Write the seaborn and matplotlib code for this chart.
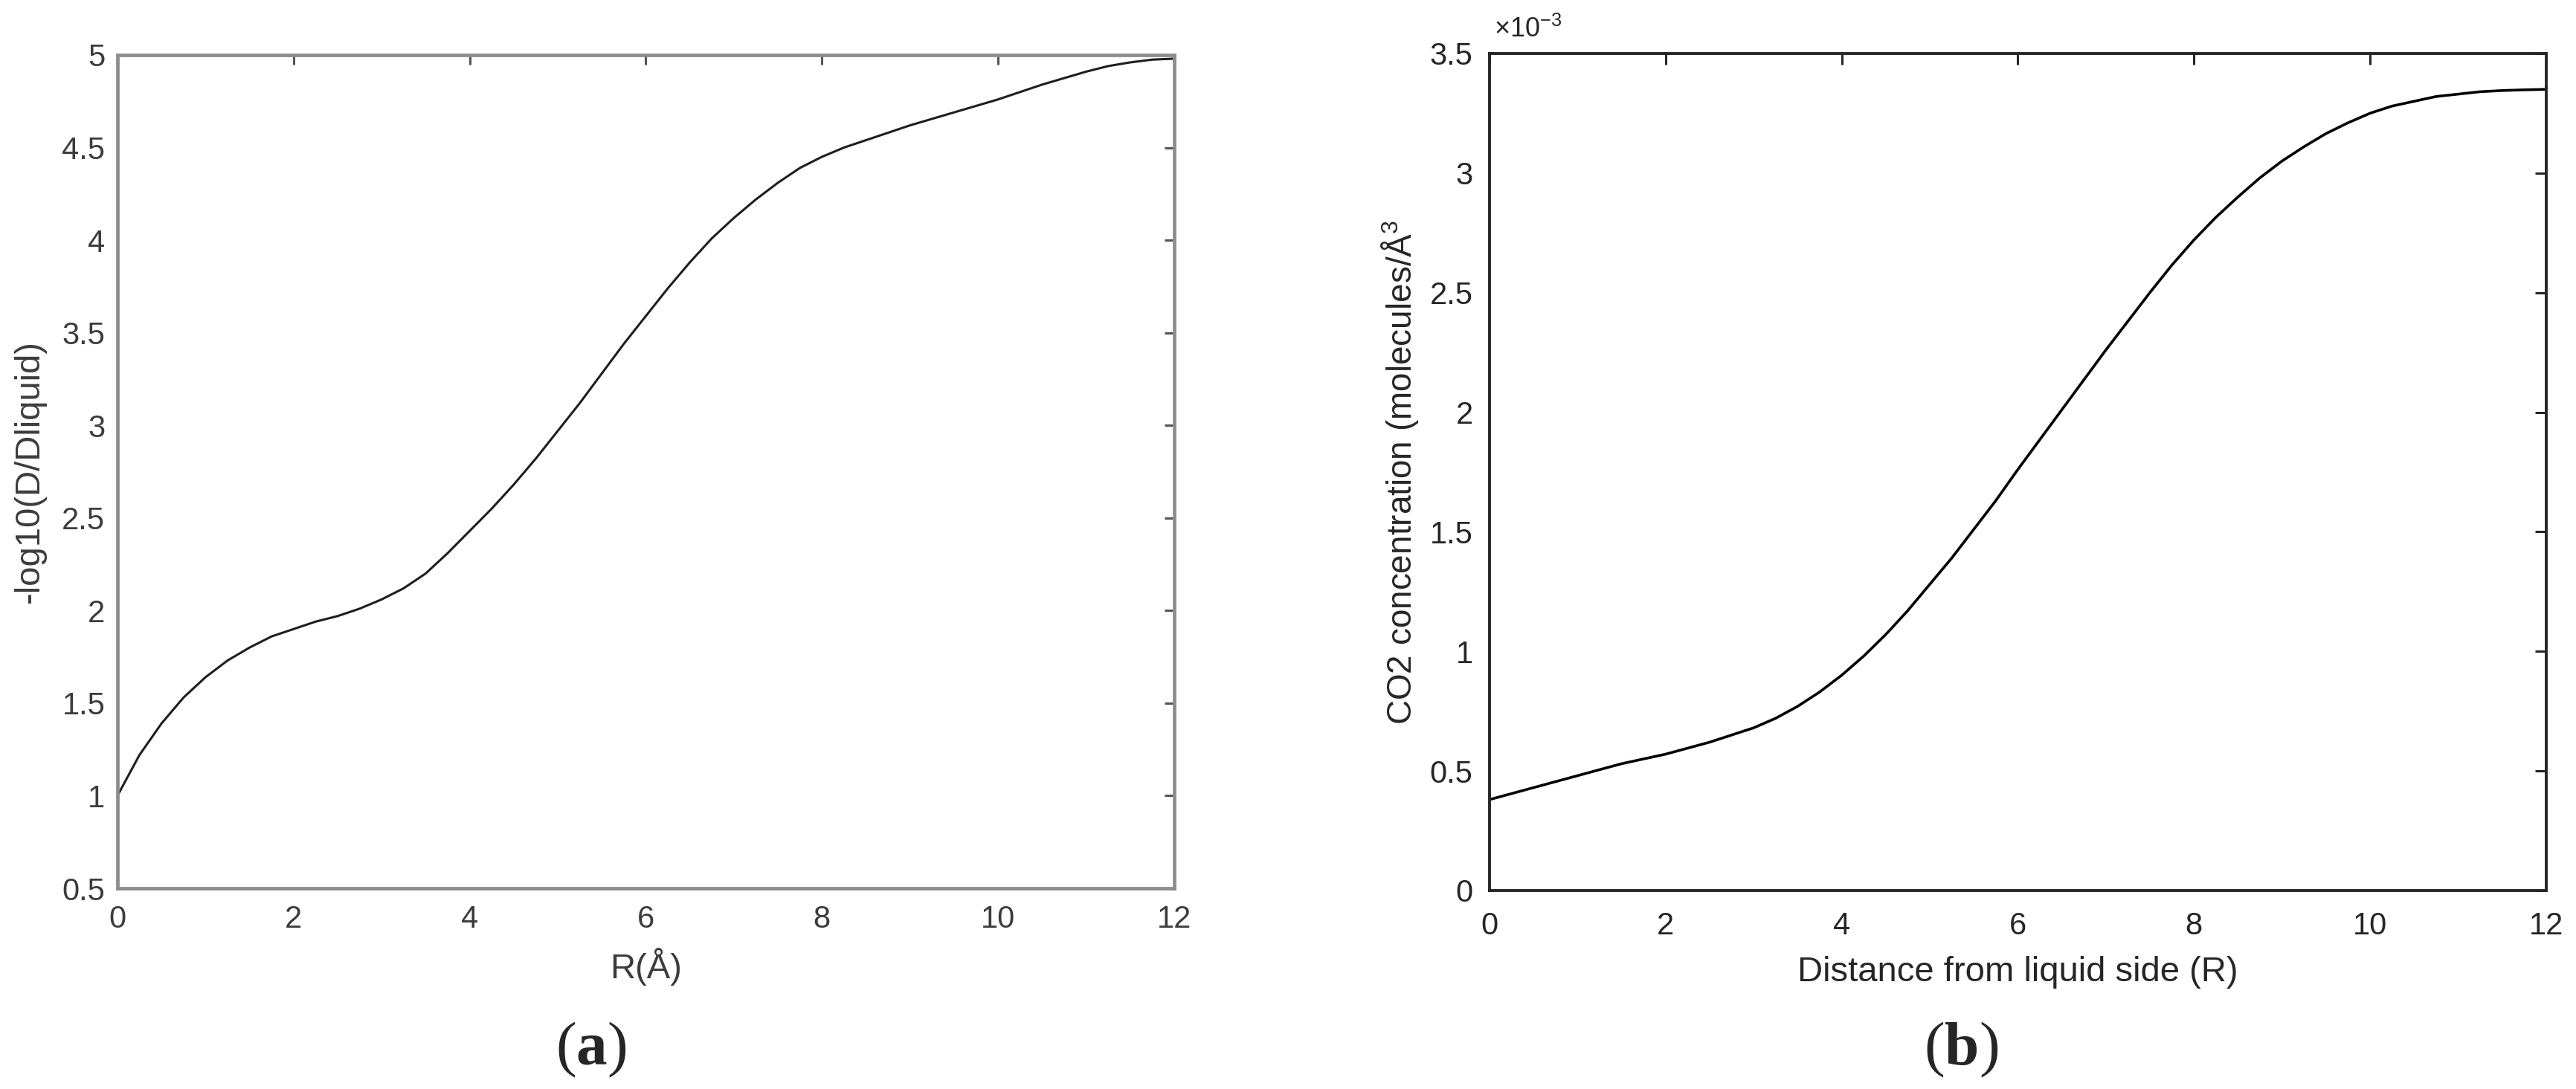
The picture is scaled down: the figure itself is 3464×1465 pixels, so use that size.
import numpy as np
import pandas as pd
import matplotlib
matplotlib.use("Agg")
import matplotlib.pyplot as plt
import seaborn as sns
from matplotlib.ticker import FuncFormatter

# =======================
# data read off the reference (R sampled every 0.25)
# =======================
r_grid = [i * 0.25 for i in range(49)]

logd = [1.00, 1.22, 1.39, 1.53, 1.64, 1.73, 1.80, 1.86, 1.90, 1.94, 1.97, 2.01,
        2.06, 2.12, 2.20, 2.31, 2.43, 2.55, 2.68, 2.82, 2.97, 3.12, 3.28, 3.44,
        3.59, 3.74, 3.88, 4.01, 4.12, 4.22, 4.31, 4.39, 4.45, 4.50, 4.54, 4.58,
        4.62, 4.655, 4.69, 4.725, 4.76, 4.80, 4.84, 4.875, 4.91, 4.94, 4.96, 4.975, 4.98]

co2 = [0.38, 0.405, 0.43, 0.455, 0.48, 0.505, 0.53, 0.55, 0.57, 0.595, 0.62, 0.65,
       0.68, 0.72, 0.77, 0.83, 0.90, 0.98, 1.07, 1.17, 1.28, 1.39, 1.51, 1.63,
       1.76, 1.885, 2.01, 2.135, 2.26, 2.38, 2.50, 2.615, 2.72, 2.815, 2.90, 2.98,
       3.05, 3.11, 3.165, 3.21, 3.25, 3.28, 3.30, 3.32, 3.33, 3.34, 3.345, 3.348, 3.35]
co2 = [v * 1e-3 for v in co2]

x_ticks = [0, 2, 4, 6, 8, 10, 12]
ya_ticks = [0.5, 1, 1.5, 2, 2.5, 3, 3.5, 4, 4.5, 5]
yb_ticks = [0, 0.5e-3, 1e-3, 1.5e-3, 2e-3, 2.5e-3, 3e-3, 3.5e-3]

df_a = pd.DataFrame({"r": r_grid, "v": logd})
df_b = pd.DataFrame({"r": r_grid, "v": co2})

sns.set_style("white")
plt.rcParams["font.family"] = ["Liberation Sans", "DejaVu Sans"]
plt.rcParams["axes.unicode_minus"] = False
plt.rcParams["mathtext.fontset"] = "custom"
plt.rcParams["mathtext.rm"] = "Liberation Sans"
plt.rcParams["mathtext.it"] = "Liberation Sans:italic"
plt.rcParams["mathtext.bf"] = "Liberation Serif:bold"

fig = plt.figure(figsize=(17.32, 7.325), dpi=200)

# =======================
# (a)
# =======================
ax1 = fig.add_axes([0.0456, 0.1843, 0.4102, 0.7652])
sns.lineplot(data=df_a, x="r", y="v", ax=ax1, color="#1e1e1e", linewidth=1.1)
ax1.set_xlim(0, 12)
ax1.set_ylim(0.5, 5)
ax1.set_xticks(x_ticks)
ax1.set_yticks(ya_ticks)
ax1.set_yticklabels([f"{t:g}" for t in ya_ticks])
for s in ax1.spines.values():
    s.set_color("#8c8c8c")
    s.set_linewidth(1.7)
ax1.tick_params(axis="both", direction="in", length=4.8, width=1.1, color="#555555", labelsize=15,
                labelcolor="#3c3c3c", top=True, right=True)
ax1.tick_params(axis="x", pad=8)
ax1.tick_params(axis="y", pad=6)
ax1.set_xlabel("R(Å)", fontsize=17, color="#3c3c3c", va="center")
ax1.xaxis.set_label_coords(0.5, -0.094)
ax1.set_ylabel("-log10(D/Dliquid)", fontsize=17, color="#3c3c3c", va="center")
ax1.yaxis.set_label_coords(-0.083, 0.5)

# =======================
# (b)
# =======================
ax2 = fig.add_axes([0.5782, 0.1823, 0.4102, 0.7686])
sns.lineplot(data=df_b, x="r", y="v", ax=ax2, color="black", linewidth=1.3)
ax2.set_xlim(0, 12)
ax2.set_ylim(0, 3.5e-3)
ax2.set_xticks(x_ticks)
ax2.set_yticks(yb_ticks)
ax2.yaxis.set_major_formatter(FuncFormatter(lambda v, p: f"{v * 1e3:g}"))
for s in ax2.spines.values():
    s.set_color("#262626")
    s.set_linewidth(1.4)
ax2.tick_params(axis="both", direction="in", length=5.4, width=1.1, color="#262626", labelsize=15,
                labelcolor="#262626", top=True, right=True)
ax2.tick_params(axis="x", pad=10)
ax2.tick_params(axis="y", pad=8)
ax2.text(0.004, 1.012, r"$\times\mathdefault{10^{-3}}$", transform=ax2.transAxes,
         fontsize=13, color="#262626", ha="left", va="bottom")
ax2.set_xlabel("Distance from liquid side (R)", fontsize=17, color="#262626", va="center")
ax2.xaxis.set_label_coords(0.5, -0.0977)
ax2.set_ylabel("CO2 concentration (molecules/Å$^{3}$", fontsize=16.5, color="#262626", va="center")
ax2.yaxis.set_label_coords(-0.0844, 0.5)

# panel labels
fig.text(0.2295, 0.036, r"($\mathbf{a}$)", fontsize=30, family="Liberation Serif", ha="center", va="center")
fig.text(0.7613, 0.036, r"($\mathbf{b}$)", fontsize=30, family="Liberation Serif", ha="center", va="center")

fig.savefig("out.png", dpi=200, facecolor="white")
